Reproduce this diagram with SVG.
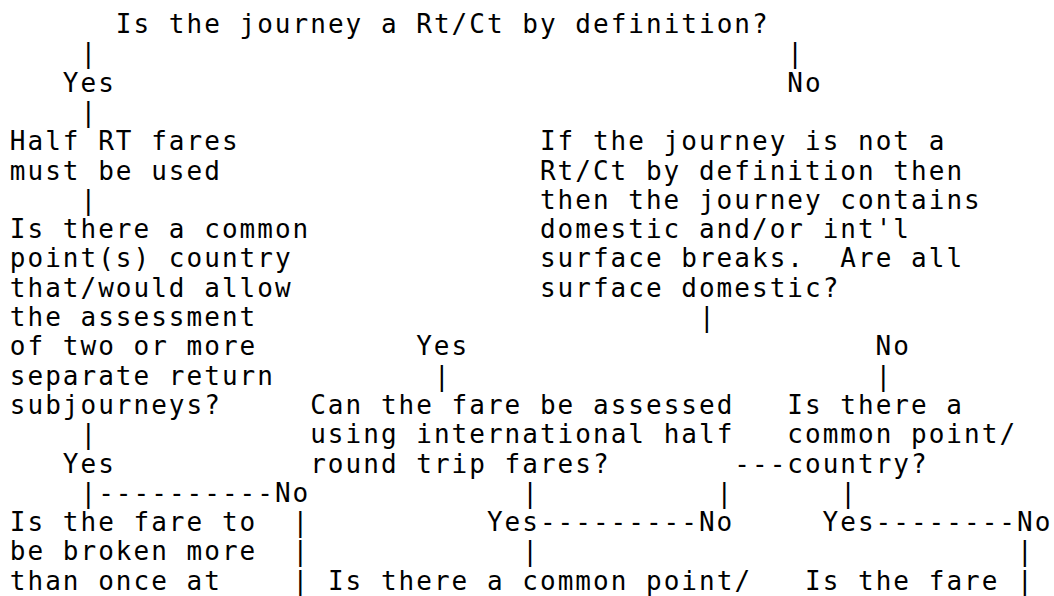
<svg xmlns="http://www.w3.org/2000/svg" width="1054" height="596" viewBox="0 0 1054 596" xml:space="preserve">
<style>
.t { font-family: "DejaVu Sans Mono", "Liberation Mono", monospace; font-size: 26px; letter-spacing: 2.02px; fill: #000; white-space: pre; }
</style>
<rect x="0" y="0" width="1054" height="596" fill="#fff"/>
<g id="connectors" class="t">
<text x="80.5" y="62.3">|</text>
<text x="787.3" y="62.3">|</text>
<text x="80.5" y="120.9">|</text>
<text x="80.5" y="208.8">|</text>
<text x="698.9" y="326">|</text>
<text x="433.9" y="384.6">|</text>
<text x="875.6" y="384.6">|</text>
<text x="80.5" y="443.2">|</text>
<text x="734.3" y="472.5">---</text>
<text x="80.5" y="501.8">|</text>
<text x="98.2" y="501.8">----------</text>
<text x="522.2" y="501.8">|</text>
<text x="716.6" y="501.8">|</text>
<text x="840.3" y="501.8">|</text>
<text x="292.5" y="531.1">|</text>
<text x="539.9" y="531.1">---------</text>
<text x="875.6" y="531.1">--------</text>
<text x="292.5" y="560.4">|</text>
<text x="522.2" y="560.4">|</text>
<text x="1017" y="560.4">|</text>
<text x="292.5" y="589.7">|</text>
<text x="1017" y="589.7">|</text>
</g>
<g id="labels" class="t">
<text x="62.8" y="91.6">Yes</text>
<text x="787.3" y="91.6">No</text>
<text x="416.2" y="355.3">Yes</text>
<text x="875.6" y="355.3">No</text>
<text x="62.8" y="472.5">Yes</text>
<text x="274.9" y="501.8">No</text>
<text x="486.9" y="531.1">Yes</text>
<text x="698.9" y="531.1">No</text>
<text x="822.6" y="531.1">Yes</text>
<text x="1017" y="531.1">No</text>
</g>
<g id="q-root" class="t">
<text x="115.8" y="33">Is the journey a Rt/Ct by definition?</text>
</g>
<g id="n-half-rt" class="t">
<text x="9.8" y="150.2">Half RT fares</text>
<text x="9.8" y="179.5">must be used</text>
</g>
<g id="n-not-rtct" class="t">
<text x="539.9" y="150.2">If the journey is not a</text>
<text x="539.9" y="179.5">Rt/Ct by definition then</text>
<text x="539.9" y="208.8">then the journey contains</text>
<text x="539.9" y="238.1">domestic and/or int'l</text>
<text x="539.9" y="267.4">surface breaks.&#160; Are all</text>
<text x="539.9" y="296.7">surface domestic?</text>
</g>
<g id="n-common-point" class="t">
<text x="9.8" y="238.1">Is there a common</text>
<text x="9.8" y="267.4">point(s) country</text>
<text x="9.8" y="296.7">that/would allow</text>
<text x="9.8" y="326">the assessment</text>
<text x="9.8" y="355.3">of two or more</text>
<text x="9.8" y="384.6">separate return</text>
<text x="9.8" y="413.9">subjourneys?</text>
</g>
<g id="n-half-rt-intl" class="t">
<text x="310.2" y="413.9">Can the fare be assessed</text>
<text x="310.2" y="443.2">using international half</text>
<text x="310.2" y="472.5">round trip fares?</text>
</g>
<g id="n-common-country" class="t">
<text x="787.3" y="413.9">Is there a</text>
<text x="787.3" y="443.2">common point/</text>
<text x="787.3" y="472.5">country?</text>
</g>
<g id="n-broken-more" class="t">
<text x="9.8" y="531.1">Is the fare to</text>
<text x="9.8" y="560.4">be broken more</text>
<text x="9.8" y="589.7">than once at</text>
</g>
<g id="n-common-point-2" class="t">
<text x="327.9" y="589.7">Is there a common point/</text>
</g>
<g id="n-is-fare" class="t">
<text x="805" y="589.7">Is the fare</text>
</g>
</svg>
